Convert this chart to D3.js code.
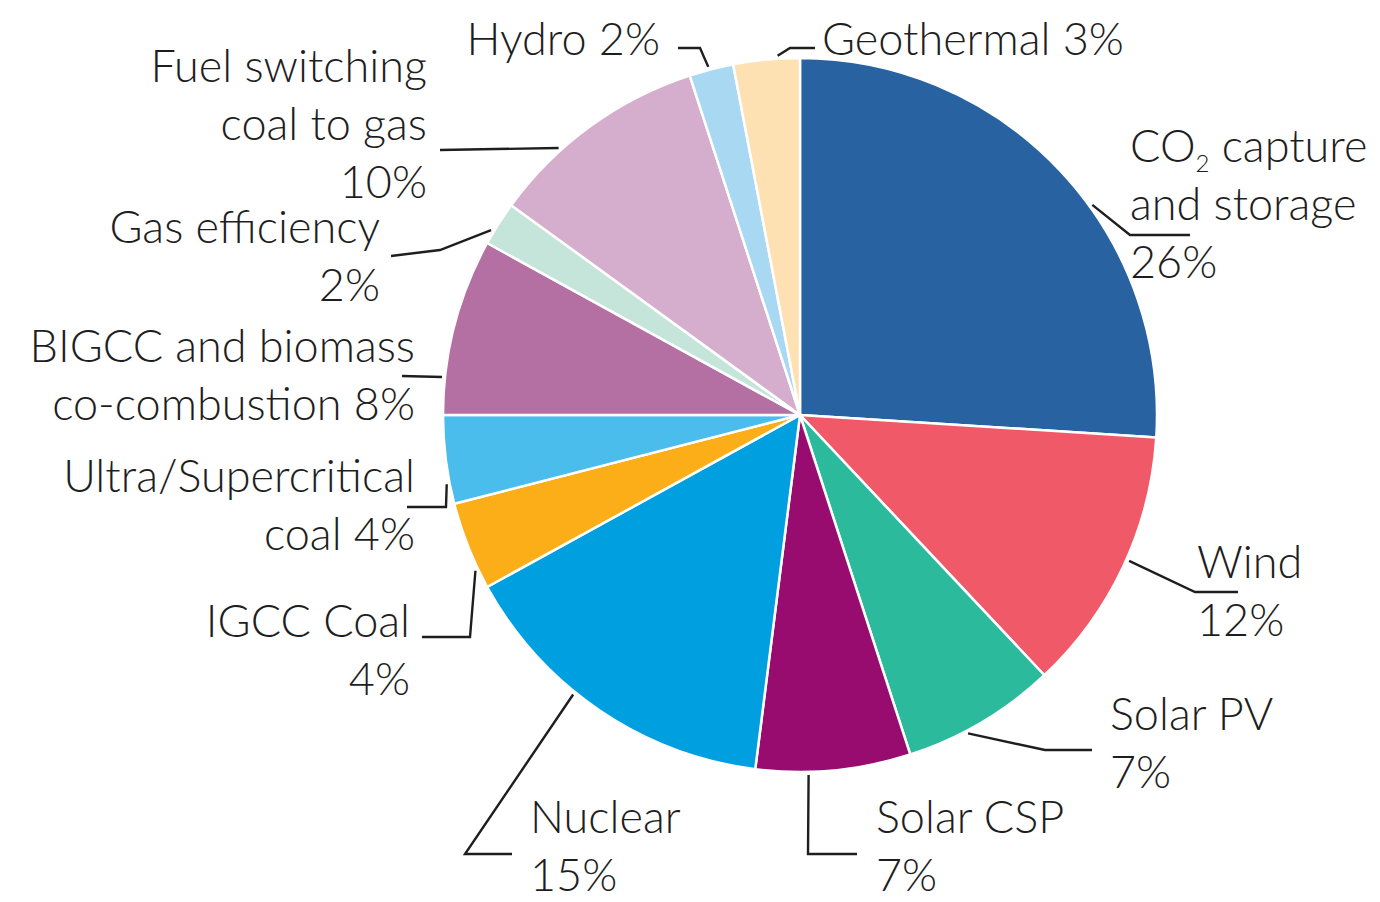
<!DOCTYPE html>
<html>
<head>
<meta charset="utf-8">
<script src="https://cdn.jsdelivr.net/npm/d3@7"></script>
<style>
  body { margin: 0; background: #fff; }
  text { font-family: Lato, "Open Sans", sans-serif; font-weight: 300; fill: #1e1e1e; }
  .leader { fill: none; stroke: #1e1e1e; stroke-width: 2.4; }
</style>
</head>
<body>
<script>
// Slice order, clockwise from 12 o'clock
var names = ["CO2 capture and storage", "Wind", "Solar PV", "Solar CSP", "Nuclear",
    "IGCC Coal", "Ultra/Supercritical coal", "BIGCC and biomass co-combustion",
    "Gas efficiency", "Fuel switching coal to gas", "Hydro", "Geothermal"];
var shares = [26, 12, 7, 7, 15, 4, 4, 8, 2, 10, 2, 3];
var colors = ["#2862a0", "#f05a68", "#2bbb9c", "#970c6e", "#00a0e0", "#fcae18",
    "#4bbdec", "#b46fa3", "#c5e4da", "#d4aecc", "#a9d8f2", "#fde1b2"];

// Label text lines (the share is appended to the last line)
var labelLines = [
    ["CO|2| capture", "and storage", ""],
    ["Wind", ""],
    ["Solar PV", ""],
    ["Solar CSP", ""],
    ["Nuclear", ""],
    ["IGCC Coal", ""],
    ["Ultra/Supercritical", "coal "],
    ["BIGCC and biomass", "co-combustion "],
    ["Gas efficiency", ""],
    ["Fuel switching", "coal to gas", ""],
    ["Hydro "],
    ["Geothermal "]
];

var svg_width = 1380, svg_height = 902;
var cx = 800, cy = 415, radius = 357;

var svg = d3.select("body").append("svg")
    .attr("width", svg_width)
    .attr("height", svg_height);

var pie = d3.pie().sort(null).value(function(d) { return d; });
var arcs = pie(shares);

var arc = d3.arc().innerRadius(0).outerRadius(radius);

var g = svg.append("g").attr("transform", "translate(" + cx + "," + cy + ")");

g.selectAll("path.slice")
    .data(arcs)
    .enter().append("path")
    .attr("class", "slice")
    .attr("d", arc)
    .attr("fill", function(d, i) { return colors[i]; })
    .attr("stroke", "#fff")
    .attr("stroke-width", 2.5)
    .attr("stroke-linejoin", "round");

// Label layout: where along the slice the leader starts, leader bends, text anchor
var layout = [
    { t: 0.58, pts: [[1130, 235], [1190, 235]], x: 1130, y: 162, anchor: "start" },
    { t: 0.47, pts: [[1195, 592], [1238, 592]], x: 1197, y: 578, anchor: "start" },
    { t: 0.61, pts: [[1045, 750], [1092, 750]], x: 1110, y: 730, anchor: "start" },
    { t: 0.66, pts: [[808, 854], [857, 854]], x: 876, y: 833, anchor: "start" },
    { t: 0.59, pts: [[465, 854], [512, 854]], x: 530, y: 833, anchor: "start" },
    { t: 0.22, pts: [[470, 637], [422, 637]], x: 410, y: 637, anchor: "end" },
    { t: 0.23, pts: [[446, 507], [407, 507]], x: 415, y: 492, anchor: "end" },
    { t: 0.21, pts: [[402, 376]], x: 415, y: 362, anchor: "end" },
    { t: 0.29, pts: [[440, 250], [391, 256]], x: 380, y: 243, anchor: "end" },
    { t: 0.33, pts: [[440, 150]], x: 427, y: 82, anchor: "end" },
    { t: 0.45, pts: [[700, 48], [678, 48]], x: 660, y: 55, anchor: "end" },
    { t: 0.67, pts: [[790, 48], [815, 48]], x: 822, y: 55, anchor: "start" }
];
var lineHeight = 58;

arcs.forEach(function(d, i) {
    var L = layout[i];
    var a = d.startAngle + (d.endAngle - d.startAngle) * L.t;
    var r0 = radius + 3;
    var start = [cx + r0 * Math.sin(a), cy - r0 * Math.cos(a)];
    var pts = [start].concat(L.pts);
    svg.append("path")
        .attr("class", "leader")
        .attr("d", d3.line()(pts));

    var lines = labelLines[i].slice();
    lines[lines.length - 1] += shares[i] + "%";
    var text = svg.append("text")
        .attr("x", L.x)
        .attr("y", L.y)
        .attr("text-anchor", L.anchor)
        .style("font-size", "45px");
    lines.forEach(function(line, k) {
        var tspan = text.append("tspan")
            .attr("x", L.x)
            .attr("dy", k === 0 ? 0 : lineHeight);
        if (line.indexOf("|") >= 0) {
            var parts = line.split("|");
            tspan.text(parts[0]);
            text.append("tspan").attr("dy", 10).style("font-size", "24px").text(parts[1]);
            text.append("tspan").attr("dy", -10).text(parts[2]);
        } else {
            tspan.text(line);
        }
    });
});
</script>
</body>
</html>
